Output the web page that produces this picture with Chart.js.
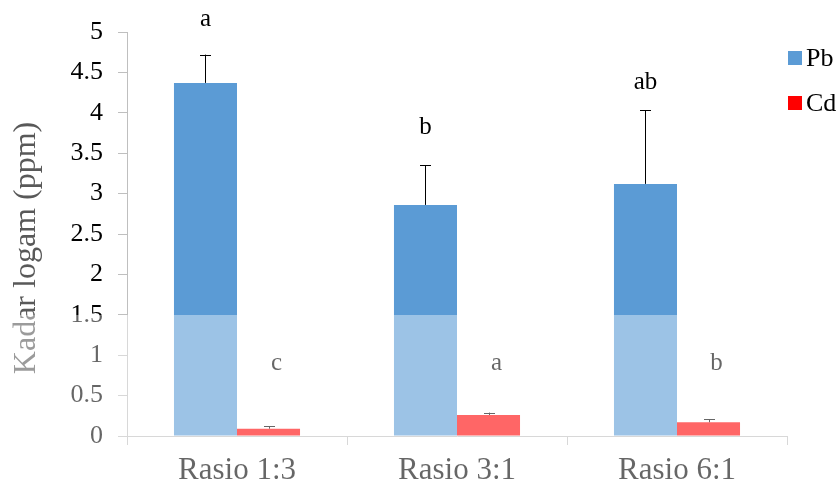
<!DOCTYPE html>
<html>
<head>
<meta charset="utf-8">
<script src="https://cdn.jsdelivr.net/npm/chart.js@4.4.1/dist/chart.umd.min.js"></script>
<style>
  html, body { margin: 0; padding: 0; background: #fff; }
  #wrap { width: 838px; height: 488px; font-family: "Liberation Serif", serif; }
</style>
</head>
<body>
<div id="wrap"><canvas id="chart" width="838" height="488"></canvas></div>
<script>
const categories = ['Rasio 1:3', 'Rasio 3:1', 'Rasio 6:1'];
const pbValues = [4.37, 2.86, 3.12];
const pbErrors = [0.35, 0.49, 0.91];
const cdValues = [0.09, 0.26, 0.17];
const cdErrors = [0.03, 0.03, 0.04];
const pbLetters = ['a', 'b', 'ab'];
const cdLetters = ['c', 'a', 'b'];
const pbLetterLevel = [5.15, 3.82, 4.38];
const cdLetterLevel = [0.9, 0.9, 0.9];
const yTicks = [0, 0.5, 1, 1.5, 2, 2.5, 3, 3.5, 4, 4.5, 5];
const yTitle = 'Kadar logam (ppm)';

const serif = '"Liberation Serif", "Times New Roman", serif';

// error bars (up only), letters, legend, axis title and the pale watermark band
const extras = {
  id: 'extras',
  afterDatasetsDraw(chart) {
    const c = chart.ctx;
    const y = chart.scales.y;
    const groups = [[pbErrors, pbLetters, pbLetterLevel, 0], [cdErrors, cdLetters, cdLetterLevel, 8]];
    groups.forEach((g, di) => {
      const meta = chart.getDatasetMeta(di);
      const vals = chart.data.datasets[di].data;
      meta.data.forEach((bar, i) => {
        const top = y.getPixelForValue(vals[i] + g[0][i]);
        c.save();
        c.strokeStyle = '#000';
        c.lineWidth = 1;
        c.beginPath();
        c.moveTo(Math.round(bar.x) + 0.5, bar.y);
        c.lineTo(Math.round(bar.x) + 0.5, top);
        c.moveTo(Math.round(bar.x) - 5, Math.round(top) + 0.5);
        c.lineTo(Math.round(bar.x) + 6, Math.round(top) + 0.5);
        c.stroke();
        c.fillStyle = '#000';
        c.font = '25px ' + serif;
        c.textAlign = 'center';
        c.textBaseline = 'middle';
        c.fillText(g[1][i], bar.x + g[3], y.getPixelForValue(g[2][i]));
        c.restore();
      });
    });
  },
  afterDraw(chart) {
    const c = chart.ctx;
    const y = chart.scales.y;
    c.save();
    // legend
    c.font = '26px ' + serif;
    c.textBaseline = 'middle';
    chart.data.datasets.forEach((ds, i) => {
      const cy = 58 + i * 45;
      c.fillStyle = ds.legendColor;
      c.fillRect(788, cy - 7, 14, 14);
      c.fillStyle = '#000';
      c.fillText(ds.label, 806, cy + 1);
    });
    // y axis title
    c.translate(27, 248);
    c.rotate(-Math.PI / 2);
    c.font = '32px ' + serif;
    c.textAlign = 'center';
    c.textBaseline = 'middle';
    c.fillStyle = '#595959';
    c.fillText(yTitle, 0, 0);
    c.restore();
    // watermark band
    const y15 = Math.round(y.getPixelForValue(1.5));
    c.save();
    c.fillStyle = 'rgba(255,255,255,0.4)';
    c.fillRect(0, y15, chart.width, chart.height - y15);
    c.restore();
  }
};

function draw() {
  new Chart(document.getElementById('chart'), {
    type: 'bar',
    data: {
      labels: categories,
      datasets: [
        { label: 'Pb', data: pbValues, backgroundColor: '#5B9BD5', legendColor: '#5B9BD5' },
        { label: 'Cd', data: cdValues, backgroundColor: '#FF0000', legendColor: '#FF0000' }
      ]
    },
    options: {
      responsive: false,
      animation: false,
      devicePixelRatio: 1,
      layout: { padding: { left: 0, top: 32, right: 51, bottom: 0 } },
      datasets: { bar: { barPercentage: 1, categoryPercentage: 0.573 } },
      plugins: { legend: { display: false }, tooltip: { enabled: false } },
      scales: {
        x: {
          afterFit: s => { s.height = 52; },
          border: { color: '#BFBFBF', width: 1 },
          grid: { drawOnChartArea: false, color: '#BFBFBF', tickLength: 9, offset: true },
          ticks: { color: '#000', padding: 7, font: { family: serif, size: 31 } }
        },
        y: {
          min: 0,
          max: 5,
          afterFit: s => { s.width = 127; },
          afterBuildTicks: s => { s.ticks = yTicks.map(v => ({ value: v })); },
          border: { color: '#BFBFBF', width: 1 },
          grid: { drawOnChartArea: false, color: '#BFBFBF', tickLength: 9 },
          ticks: {
            color: '#000',
            padding: 15,
            font: { family: serif, size: 26 },
            callback: v => String(v)
          }
        }
      }
    },
    plugins: [extras]
  });
}

Promise.all([25, 26, 31, 32].map(s => document.fonts.load(s + 'px "Liberation Serif"')))
  .catch(() => {})
  .then(draw);
</script>
</body>
</html>
